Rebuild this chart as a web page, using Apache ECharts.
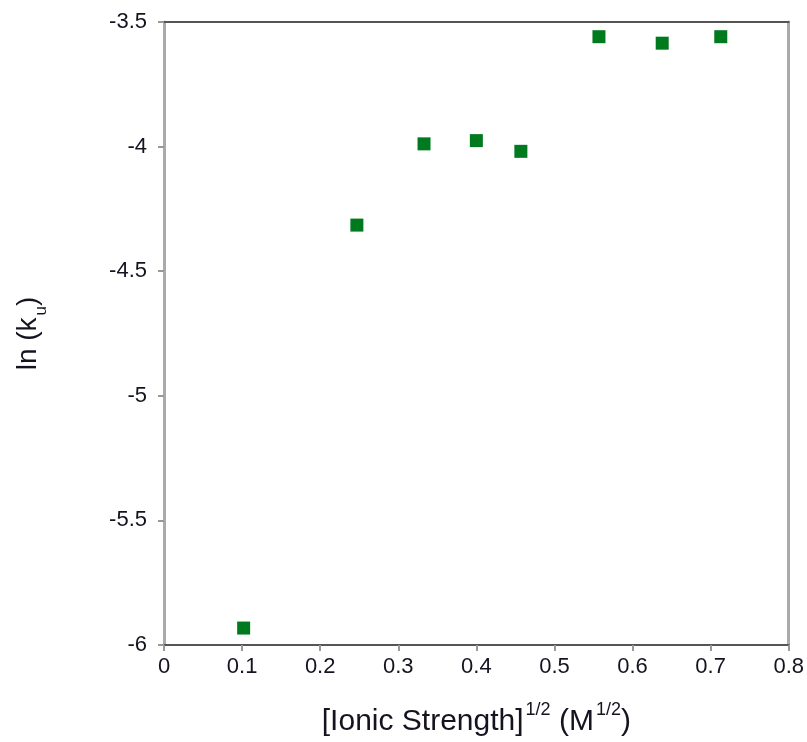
<!DOCTYPE html>
<html>
<head>
<meta charset="utf-8">
<script src="https://cdn.jsdelivr.net/npm/echarts@6/dist/echarts.min.js"></script>
<style>
  html, body { margin: 0; padding: 0; background: #fff; }
  #chart { width: 807px; height: 742px; }
</style>
</head>
<body>
<div id="chart"></div>
<script>
// Square root of ionic strength (M^1/2) and the measured ln(k_u)
const sqrtIonicStrength = [0.102, 0.247, 0.333, 0.400, 0.457, 0.557, 0.638, 0.713];
const lnKu = [-5.932, -4.315, -3.989, -3.976, -4.019, -3.559, -3.585, -3.559];

const xTicks = { min: 0, max: 0.8, interval: 0.1 };
const yTicks = { min: -6, max: -3.5, interval: 0.5 };

const points = sqrtIonicStrength.map((x, i) => [x, lnKu[i]]);

const font = 'Liberation Sans, Arial, sans-serif';
const textColor = '#141420';
const chart = echarts.init(document.getElementById('chart'));

chart.setOption({
  animation: false,
  backgroundColor: '#fff',
  grid: { left: 164, right: 18, top: 22, bottom: 95, containLabel: false },
  xAxis: [
    {
      type: 'value',
      position: 'bottom',
      min: xTicks.min, max: xTicks.max, interval: xTicks.interval,
      axisLine: { show: true, onZero: false, lineStyle: { color: '#555', width: 2 } },
      axisTick: { show: true, length: 6, lineStyle: { color: '#999', width: 2 } },
      axisLabel: {
        color: textColor, fontSize: 22, fontFamily: font, margin: 11,
        formatter: v => String(Math.round(v * 10) / 10)
      },
      splitLine: { show: false },
      name: '{t|[Ionic Strength]}{sup|1/2}{t| (M}{sup|1/2}{t|)}',
      nameLocation: 'middle',
      nameGap: 56,
      nameTextStyle: {
        rich: {
          t: { fontSize: 30, fontFamily: font, color: textColor, lineHeight: 36, verticalAlign: 'bottom' },
          sup: { fontSize: 18, fontFamily: font, color: textColor, lineHeight: 36, verticalAlign: 'top', padding: [0, 0, 0, 2] }
        }
      }
    },
    {
      type: 'value',
      position: 'top',
      min: xTicks.min, max: xTicks.max,
      axisLine: { show: true, onZero: false, lineStyle: { color: '#555', width: 2 } },
      axisTick: { show: false },
      axisLabel: { show: false },
      splitLine: { show: false }
    }
  ],
  yAxis: [
    {
      type: 'value',
      position: 'left',
      min: yTicks.min, max: yTicks.max, interval: yTicks.interval,
      axisLine: { show: true, onZero: false, lineStyle: { color: '#aaa', width: 3 } },
      axisTick: { show: true, length: 6, lineStyle: { color: '#999', width: 2 } },
      axisLabel: {
        color: textColor, fontSize: 22, fontFamily: font, margin: 17,
        formatter: v => String(Math.round(v * 10) / 10)
      },
      splitLine: { show: false },
      name: '{t|ln (k}{sub|u}{t|)}',
      nameLocation: 'middle',
      nameRotate: 90,
      nameGap: 114,
      nameTextStyle: {
        rich: {
          t: { fontSize: 28, fontFamily: font, color: textColor, lineHeight: 36, verticalAlign: 'top' },
          sub: { fontSize: 17, fontFamily: font, color: textColor, lineHeight: 36, verticalAlign: 'bottom', padding: [0, 0, 0, 2] }
        }
      }
    },
    {
      type: 'value',
      position: 'right',
      min: yTicks.min, max: yTicks.max,
      axisLine: { show: true, onZero: false, lineStyle: { color: '#aaa', width: 3 } },
      axisTick: { show: false },
      axisLabel: { show: false },
      splitLine: { show: false }
    }
  ],
  series: [
    {
      type: 'scatter',
      xAxisIndex: 0,
      yAxisIndex: 0,
      data: points,
      symbol: 'rect',
      symbolSize: 13,
      itemStyle: { color: '#007a1f', opacity: 1 }
    }
  ]
});
</script>
</body>
</html>
